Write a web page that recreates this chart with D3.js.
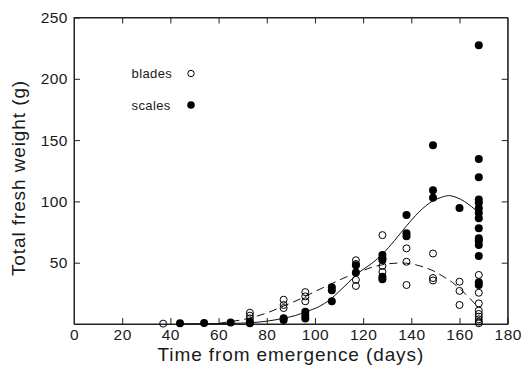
<!DOCTYPE html>
<html>
<head>
<meta charset="utf-8">
<script src="https://cdn.jsdelivr.net/npm/d3@7"></script>
<style>
  body { margin: 0; background: #fff; }
  svg text { font-family: "Liberation Sans", Arial, sans-serif; fill: #1a1a1a; }
</style>
</head>
<body>
<div id="chart"></div>
<script>
// blades (open circles): [day, fresh weight g]
const bladesPts = [
  [37, 0.3],
  [73, 9.2], [73, 6.8], [73, 4.6],
  [87, 19.8], [87, 15.5], [87, 13],
  [96, 26], [96, 22.5], [96, 18.5],
  [117, 52], [117, 49], [117, 36], [117, 31],
  [128, 72.5], [128, 47.3], [128, 42.5],
  [138, 61.7], [138, 50.8], [138, 31.8],
  [149, 57.5], [149, 37.5], [149, 35.5],
  [160, 34.5], [160, 27], [160, 15.5],
  [168, 40], [168, 25.5], [168, 16.8], [168, 11], [168, 8.2], [168, 6], [168, 3.8], [168, 1.9], [168, 0.6]
];

// scales (filled circles)
const scalesPts = [
  [44, 0.6], [54, 0.8], [65, 1.2],
  [73, 1.9], [73, 0.6],
  [87, 4.6], [87, 3.3],
  [96, 10], [96, 7], [96, 4.5],
  [107, 30], [107, 27.5], [107, 18.5],
  [117, 48], [117, 42],
  [128, 56.3], [128, 53.6], [128, 52.2], [128, 38.6], [128, 36.5],
  [138, 88.9], [138, 74], [138, 71.5],
  [149, 145.7], [149, 109], [149, 103],
  [160, 94.6],
  [168, 227.3], [168, 134.6], [168, 119.7], [168, 101.5], [168, 99], [168, 94.4], [168, 90.5],
  [168, 86.2], [168, 78.1], [168, 69.9], [168, 68], [168, 64.4], [168, 55.5], [168, 34], [168, 31.8]
];

// fitted curves
const scalesFit = [
  [44, 0.2], [55, 0.3], [65, 0.5], [73, 1], [80, 2.3], [87, 4.7], [92, 7], [97, 10.5],
  [102, 14.5], [106, 19.5], [110, 26.5], [114, 34], [117, 40], [120, 44.5], [124, 50],
  [128, 57], [133, 68], [138, 80], [143, 91], [149, 100.5], [152, 103], [155.5, 104.7],
  [159, 103], [162, 100], [165, 95.7], [168, 90.5]
];
const bladesFit = [
  [60, 0.5], [65, 2], [70, 3.5], [76, 6.5], [80, 9], [88, 15.5], [94, 20.5], [100, 26.5],
  [106, 32], [112, 37.5], [118, 42], [124, 46.5], [130, 49], [136, 49.8], [140, 49],
  [145, 46.5], [149, 43.5], [153, 39], [157, 34], [160, 29], [164, 21.5], [168, 13]
];

const xTicks = [0, 20, 40, 60, 80, 100, 120, 140, 160, 180];
const yTicks = [50, 100, 150, 200, 250];
const legendItems = [
  { label: "blades", filled: false },
  { label: "scales", filled: true }
];

const W = 523, H = 366;
const margin = { top: 17.5, right: 15.3, bottom: 42, left: 74 };

const svg = d3.select("#chart").append("svg")
  .attr("width", W)
  .attr("height", H);

const x = d3.scaleLinear().domain([0, 180]).range([margin.left, W - margin.right]);
const y = d3.scaleLinear().domain([0, 250]).range([H - margin.bottom, margin.top]);

// axes, ticks pointing inward
svg.append("g")
  .attr("class", "axis")
  .attr("transform", "translate(0," + (H - margin.bottom) + ")")
  .call(d3.axisBottom(x).tickValues(xTicks).tickSizeInner(-6).tickSizeOuter(0).tickPadding(5));

svg.append("g")
  .attr("class", "axis")
  .attr("transform", "translate(" + margin.left + ",0)")
  .call(d3.axisLeft(y).tickValues(yTicks).tickSizeInner(-6).tickSizeOuter(0).tickPadding(6));

svg.append("g")
  .attr("class", "axis")
  .attr("transform", "translate(0," + margin.top + ")")
  .call(d3.axisTop(x).tickValues(xTicks.slice(1, -1)).tickSizeInner(-6).tickSizeOuter(0).tickFormat(""));

svg.append("g")
  .attr("class", "axis")
  .attr("transform", "translate(" + (W - margin.right) + ",0)")
  .call(d3.axisRight(y).tickValues(yTicks.slice(0, -1)).tickSizeInner(-6).tickSizeOuter(0).tickFormat(""));

svg.selectAll(".axis text")
  .style("font-size", "15.5px")
  .style("letter-spacing", "0.5px");
svg.selectAll(".axis path, .axis line")
  .attr("stroke", "#222");

// frame
svg.append("rect")
  .attr("x", x(0))
  .attr("y", y(250))
  .attr("width", x(180) - x(0))
  .attr("height", y(0) - y(250))
  .attr("fill", "none")
  .attr("stroke", "#222")
  .attr("stroke-width", 1);

// titles
svg.append("text")
  .attr("x", (x(0) + x(180)) / 2)
  .attr("y", 361)
  .attr("text-anchor", "middle")
  .style("font-size", "19px")
  .style("letter-spacing", "0.9px")
  .text("Time from emergence (days)");

svg.append("text")
  .attr("transform", "translate(25,178) rotate(-90)")
  .attr("text-anchor", "middle")
  .style("font-size", "19px")
  .style("letter-spacing", "0.9px")
  .text("Total fresh weight (g)");

// fitted lines
const line = d3.line()
  .x(d => x(d[0]))
  .y(d => y(d[1]))
  .curve(d3.curveMonotoneX);

svg.append("path")
  .datum(bladesFit)
  .attr("d", line)
  .attr("fill", "none")
  .attr("stroke", "#111")
  .attr("stroke-width", 1)
  .attr("stroke-dasharray", "8,5");

svg.append("path")
  .datum(scalesFit)
  .attr("d", line)
  .attr("fill", "none")
  .attr("stroke", "#111")
  .attr("stroke-width", 1);

// points
svg.append("g").selectAll("circle")
  .data(scalesPts)
  .enter().append("circle")
  .attr("cx", d => x(d[0]))
  .attr("cy", d => y(d[1]))
  .attr("r", 4)
  .attr("fill", "#000");

svg.append("g").selectAll("circle")
  .data(bladesPts)
  .enter().append("circle")
  .attr("cx", d => x(d[0]))
  .attr("cy", d => y(d[1]))
  .attr("r", 3.5)
  .attr("fill", "none")
  .attr("stroke", "#000")
  .attr("stroke-width", 1);

// legend
const leg = svg.append("g").selectAll("g")
  .data(legendItems)
  .enter().append("g")
  .attr("transform", (d, i) => "translate(0," + (73.5 + i * 31.5) + ")");

leg.append("text")
  .attr("x", 131.5)
  .attr("y", 4.5)
  .style("font-size", "13px")
  .style("letter-spacing", "0.4px")
  .text(d => d.label);

leg.append("circle")
  .attr("cx", 191)
  .attr("cy", 0)
  .attr("r", d => d.filled ? 3.8 : 3.2)
  .attr("fill", d => d.filled ? "#000" : "none")
  .attr("stroke", "#000")
  .attr("stroke-width", d => d.filled ? 0 : 1);
</script>
</body>
</html>
